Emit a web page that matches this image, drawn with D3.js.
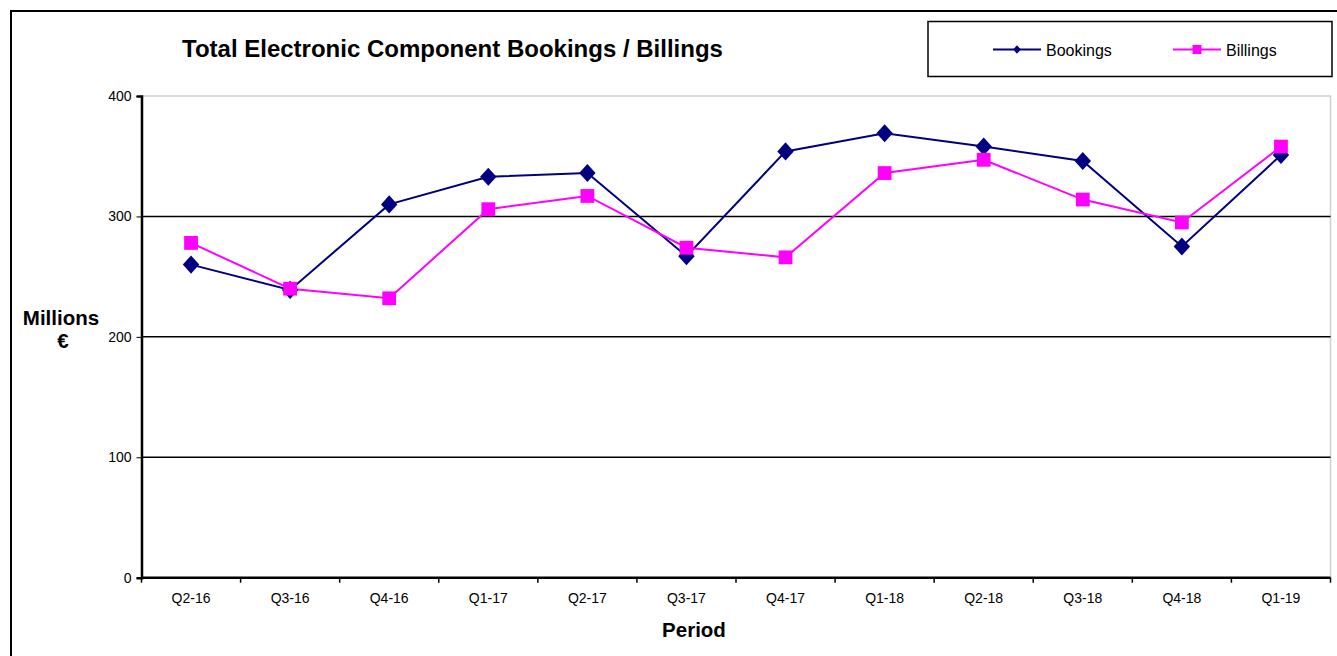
<!DOCTYPE html>
<html>
<head>
<meta charset="utf-8">
<script src="https://cdn.jsdelivr.net/npm/d3@7"></script>
<style>
body{margin:0;background:#fff;}
text{font-family:"Liberation Sans",Arial,sans-serif;}
</style>
</head>
<body>
<div id="chart"></div>
<script>
// chart data
var periods=["Q2-16","Q3-16","Q4-16","Q1-17","Q2-17","Q3-17","Q4-17","Q1-18","Q2-18","Q3-18","Q4-18","Q1-19"];
var bookings=[260,239,310,333,336,267,354,369,358,346,275,351];
var billings=[278,240,232,306,317,274,266,336,347,314,295,358];
var yTicks=[0,100,200,300,400];

var width=1337,height=656;
var plotLeft=141.5,plotRight=1330.5,plotTop=96,plotBottom=577.7;

var svg=d3.select("#chart").append("svg").attr("width",width).attr("height",height);

// outer frame
svg.append("path").attr("d","M11,656V11H1337").attr("fill","none").attr("stroke","#000").attr("stroke-width",2);

var x=d3.scaleBand().domain(periods).range([plotLeft,plotRight]);
var y=d3.scaleLinear().domain([0,400]).range([plotBottom,plotTop]);

// plot area border (light)
svg.append("rect").attr("x",plotLeft).attr("y",plotTop).attr("width",plotRight-plotLeft).attr("height",plotBottom-plotTop)
  .attr("fill","none").attr("stroke","#d0d0d0").attr("stroke-width",1.5);

// gridlines
svg.selectAll(".grid").data(yTicks.filter(d=>d>0&&d<400)).enter().append("line")
  .attr("x1",plotLeft).attr("x2",plotRight)
  .attr("y1",d=>y(d)).attr("y2",d=>y(d))
  .attr("stroke","#000").attr("stroke-width",1.5);

// y axis
var yAxis=svg.append("g").attr("transform","translate("+plotLeft+",0)")
  .call(d3.axisLeft(y).tickValues(yTicks).tickSize(5).tickPadding(5));
yAxis.select(".domain").attr("stroke-width",2.5);
yAxis.selectAll("text").attr("font-size",14).attr("fill","#000");

// x axis with ticks at band edges
var xAxis=svg.append("g").attr("transform","translate(0,"+plotBottom+")");
xAxis.append("line").attr("x1",plotLeft).attr("x2",plotRight).attr("stroke","#000").attr("stroke-width",2.5);
var edges=periods.map(p=>x(p)).concat([plotRight]);
xAxis.selectAll(".tk").data(edges).enter().append("line")
  .attr("x1",d=>d).attr("x2",d=>d).attr("y1",0).attr("y2",5).attr("stroke","#000").attr("stroke-width",1.5);
xAxis.selectAll(".lbl").data(periods).enter().append("text")
  .attr("x",d=>x(d)+x.bandwidth()/2).attr("y",25).attr("text-anchor","middle")
  .attr("font-size",14).text(d=>d);

var cx=d=>x(d)+x.bandwidth()/2;
var line=d3.line().x((d,i)=>cx(periods[i])).y(d=>y(d));

svg.append("path").datum(bookings).attr("fill","none").attr("stroke","#000080").attr("stroke-width",2).attr("d",line);
svg.append("path").datum(billings).attr("fill","none").attr("stroke","#ff00ff").attr("stroke-width",2).attr("d",line);

// diamond = square turned 45deg
var diamond=d3.symbol().type(d3.symbolSquare).size(135);
var square=d3.symbol().type(d3.symbolSquare).size(190);

svg.selectAll(".bm").data(bookings).enter().append("path")
  .attr("d",diamond).attr("fill","#000080")
  .attr("transform",(d,i)=>"translate("+cx(periods[i])+","+y(d)+") scale(1,1.1) rotate(45)");
svg.selectAll(".sm").data(billings).enter().append("path")
  .attr("d",square).attr("fill","#ff00ff")
  .attr("transform",(d,i)=>"translate("+cx(periods[i])+","+y(d)+")");

// title
svg.append("text").attr("x",452.5).attr("y",57).attr("text-anchor","middle")
  .attr("font-size",24).attr("font-weight","bold").text("Total Electronic Component Bookings / Billings");

// axis titles
svg.append("text").attr("x",61).attr("y",325).attr("text-anchor","middle")
  .attr("font-size",20.5).attr("font-weight","bold").text("Millions");
svg.append("text").attr("x",63).attr("y",348).attr("text-anchor","middle")
  .attr("font-size",20.5).attr("font-weight","bold").text("€");
svg.append("text").attr("x",694).attr("y",637).attr("text-anchor","middle")
  .attr("font-size",20.5).attr("font-weight","bold").text("Period");

// legend
var lg=svg.append("g");
lg.append("rect").attr("x",928).attr("y",21.5).attr("width",404).attr("height",55)
  .attr("fill","#fff").attr("stroke","#000").attr("stroke-width",1.5);
var items=[{name:"Bookings",color:"#000080",sym:"d",x:993},{name:"Billings",color:"#ff00ff",sym:"s",x:1173}];
items.forEach(function(it){
  lg.append("line").attr("x1",it.x).attr("x2",it.x+48).attr("y1",49.5).attr("y2",49.5)
    .attr("stroke",it.color).attr("stroke-width",2);
  if(it.sym=="d"){
    lg.append("path").attr("d",d3.symbol().type(d3.symbolSquare).size(30)).attr("fill",it.color)
      .attr("transform","translate("+(it.x+24)+",49.5) scale(1,1.1) rotate(45)");
  } else {
    lg.append("path").attr("d",d3.symbol().type(d3.symbolSquare).size(81)).attr("fill",it.color)
      .attr("transform","translate("+(it.x+24)+",49.5)");
  }
  lg.append("text").attr("x",it.x+53).attr("y",55.5).attr("font-size",16).text(it.name);
});
</script>
</body>
</html>
